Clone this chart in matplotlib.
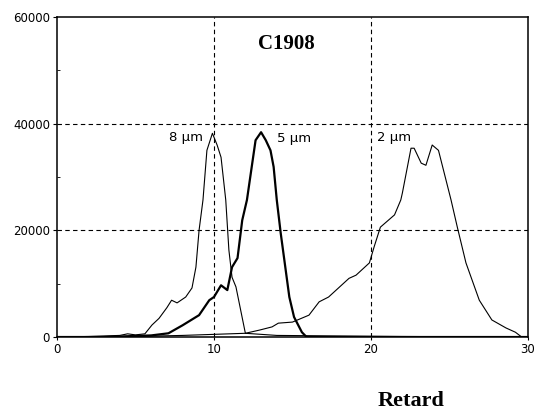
import matplotlib.pyplot as plt

# 8 um (thin)
x8 = [0, 2, 4.0, 4.5, 5.0, 5.6, 6.05, 6.5, 7.0, 7.3, 7.65, 8.2, 8.6, 8.85, 9.05, 9.3, 9.55, 9.9,
      10.2, 10.45, 10.75, 10.95, 11.15, 11.4, 12.0, 14, 18, 22, 30]
y8 = [0, 100, 300, 600, 400, 600, 2250, 3500, 5500, 6900, 6400, 7500, 9200, 13100, 20000, 25700,
      35000, 38200, 36000, 33700, 25700, 16300, 11200, 9400, 700, 300, 200, 100, 0]

# 5 um (thick)
x5 = [0, 3, 6.0, 7.1, 8.0, 9.05, 9.7, 10.0, 10.45, 10.85, 11.15, 11.5, 11.8, 12.1, 12.65, 13.0,
      13.3, 13.6, 13.8, 14.0, 14.25, 14.8, 15.1, 15.6, 15.9, 20, 30]
y5 = [0, 0, 300, 700, 2200, 4100, 6900, 7500, 9700, 8800, 13100, 14800, 21900, 25700, 36900,
      38400, 36900, 35000, 31900, 25700, 19500, 7500, 3750, 900, 0, 0, 0]

# 2 um (thin)
x2 = [0, 5, 8, 10, 12.0, 12.9, 13.7, 14.1, 15.0, 16.05, 16.7, 17.3, 18.6, 19.05, 19.9, 20.2,
      20.6, 21.5, 21.9, 22.0, 22.55, 22.75, 23.2, 23.5, 23.9, 24.3, 25.1, 25.5, 26.05, 26.9,
      27.7, 28.6, 29.2, 29.6]
y2 = [0, 100, 300, 500, 700, 1300, 1900, 2600, 2800, 4100, 6600, 7500, 11000, 11600, 13900,
      16900, 20600, 22900, 25700, 27000, 35400, 35400, 32600, 32200, 36000, 35000, 25700,
      20600, 13900, 6900, 3200, 1700, 900, 0]

labels = ["8 μm", "5 μm", "2 μm"]
label_pos = [(8.2, 37500), (15.1, 37300), (21.5, 37500)]

fig = plt.figure(figsize=(5.34, 4.11), dpi=100)
ax = fig.add_axes([0.1067, 0.180, 0.882, 0.7786])

ax.plot(x8, y8, color='black', linewidth=0.8)
ax.plot(x5, y5, color='black', linewidth=1.6)
ax.plot(x2, y2, color='black', linewidth=0.8)

ax.set_xlim(0, 30)
ax.set_ylim(0, 60000)
ax.set_xticks([0, 10, 20, 30])
ax.set_yticks([0, 20000, 40000, 60000])
ax.set_yticks([10000, 30000, 50000], minor=True)
ax.tick_params(axis='both', labelsize=8.5, length=3, width=0.8, pad=2)
ax.tick_params(axis='y', which='minor', length=2, direction='in')
ax.tick_params(axis='x', length=2)

for v in [10, 20]:
    ax.axvline(v, color='black', linewidth=0.8, linestyle=(0, (4, 3)))
for v in [20000, 40000]:
    ax.axhline(v, color='black', linewidth=0.8, linestyle=(0, (4, 3)))

for spine in ax.spines.values():
    spine.set_linewidth(1.1)

for (lx, ly), txt in zip(label_pos, labels):
    ax.text(lx, ly, txt, fontsize=9.5, ha='center', va='center')

ax.text(0.486, 0.915, 'C1908', transform=ax.transAxes, fontsize=15, fontweight='bold',
        family='Liberation Serif', ha='center', va='center')
fig.text(0.770, 1 - 401 / 411, 'Retard', fontsize=16, fontweight='bold',
         family='Liberation Serif', ha='center', va='center')

fig.savefig('out.png', dpi=100)
